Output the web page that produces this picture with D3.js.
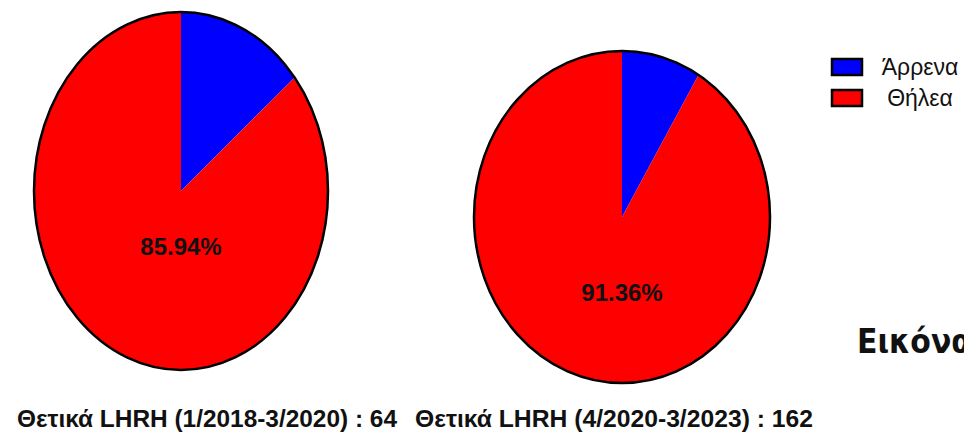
<!DOCTYPE html>
<html>
<head>
<meta charset="utf-8">
<script src="https://cdn.jsdelivr.net/npm/d3@7"></script>
<style>
  body { margin: 0; background: #fff; }
  text { font-family: "Liberation Sans", Arial, sans-serif; }
</style>
</head>
<body>
<div id="chart"></div>
<script>
var width = 964, height = 437;

// data
var categories = ["Άρρενα", "Θήλεα"];
var periods = ["1/2018-3/2020", "4/2020-3/2023"];
var males = [9, 14];
var females = [55, 148];
var colors = ["#0000ff", "#ff0000"];

// geometry for the two (stretched) pies
var pies = [
  {cx: 181, cy: 191, rx: 147, ry: 179, labelY: 255, titleX: 17, titleW: 380},
  {cx: 622, cy: 217, rx: 148, ry: 166, labelY: 301, titleX: 415, titleW: 398}
];

var color = d3.scaleOrdinal().domain(categories).range(colors);

var pie = d3.pie()
  .sort(null)
  .value(function (d) { return d.value; });

var arc = d3.arc()
  .innerRadius(0)
  .outerRadius(100);

var svg = d3.select("#chart").append("svg")
    .attr("width", width)
    .attr("height", height);

svg.append("rect")
  .attr("width", width)
  .attr("height", height)
  .attr("fill", "#fff");

periods.forEach(function (p, i) {
  var g = pies[i];
  var data = [
    {cat: categories[0], value: males[i]},
    {cat: categories[1], value: females[i]}
  ];
  var total = males[i] + females[i];

  var grp = svg.append("g")
    .attr("transform", "translate(" + g.cx + "," + g.cy + ") scale(" + (g.rx / 100) + "," + (g.ry / 100) + ")");

  grp.selectAll("path")
    .data(pie(data))
    .enter().append("path")
    .attr("d", arc)
    .attr("fill", function (d) { return color(d.data.cat); });

  svg.append("ellipse")
    .attr("cx", g.cx)
    .attr("cy", g.cy)
    .attr("rx", g.rx)
    .attr("ry", g.ry)
    .attr("fill", "none")
    .attr("stroke", "#000")
    .attr("stroke-width", 2.5);

  svg.append("text")
    .attr("x", g.cx)
    .attr("y", g.labelY)
    .attr("text-anchor", "middle")
    .style("font-size", "24px")
    .style("font-weight", "bold")
    .attr("fill", "#111")
    .text(d3.format(".2%")(females[i] / total));

  svg.append("text")
    .attr("x", g.titleX)
    .attr("y", 427)
    .attr("textLength", g.titleW)
    .attr("lengthAdjust", "spacingAndGlyphs")
    .style("font-size", "23px")
    .style("font-weight", "bold")
    .attr("fill", "#111")
    .text("Θετικά LHRH (" + p + ") : " + total);
});

// legend
var legend = svg.selectAll(".legend")
  .data(categories)
  .enter().append("g")
  .attr("class", "legend")
  .attr("transform", function (d, i) { return "translate(832," + (59 + i * 31) + ")"; });

legend.append("rect")
  .attr("width", 30)
  .attr("height", 16)
  .attr("fill", function (d) { return color(d); })
  .attr("stroke", "#000")
  .attr("stroke-width", 2.5);

legend.append("text")
  .attr("x", 88)
  .attr("y", 16)
  .attr("text-anchor", "middle")
  .style("font-size", "23px")
  .attr("fill", "#111")
  .text(function (d) { return d; });

// caption, cut at the right edge as in the source
svg.append("text")
  .attr("transform", "translate(857,353) scale(0.88,1)")
  .style("font-family", "'DejaVu Sans', sans-serif")
  .style("font-size", "34px")
  .style("font-weight", "bold")
  .attr("fill", "#111")
  .text("Εικόνα");
</script>
</body>
</html>
